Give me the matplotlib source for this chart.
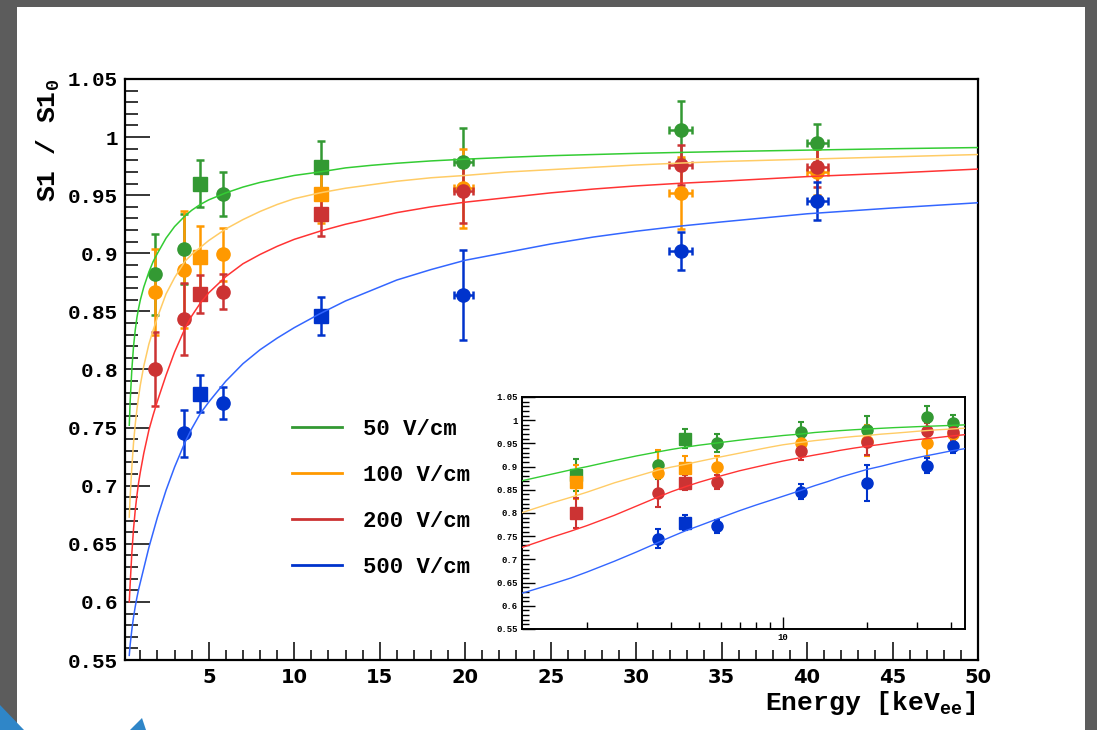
import numpy as np
import matplotlib.pyplot as plt
from matplotlib.lines import Line2D
from matplotlib.patches import Rectangle, Polygon
from matplotlib.ticker import MultipleLocator, FuncFormatter, FixedLocator, NullFormatter

plt.rcParams['mathtext.fontset'] = 'custom'
plt.rcParams['mathtext.rm'] = 'Liberation Mono:bold'
plt.rcParams['mathtext.bf'] = 'Liberation Mono:bold'

# 測定点 (keVee)
energy = [1.83, 3.58, 4.46, 5.83, 11.58, 19.9, 32.6, 40.6]
energy_err = [0, 0, 0, 0, 0, 0.58, 0.65, 0.63]
main_markers = ['o', 'o', 's', 'o', 's', 'o', 'o', 'o']
inset_markers = ['s', 'o', 's', 'o', 'o', 'o', 'o', 'o']

fields = ['50 V/cm', '100 V/cm', '200 V/cm', '500 V/cm']

s1_50 = [0.882, 0.904, 0.960, 0.951, 0.974, 0.979, 1.006, 0.995]
err_50 = [0.035, 0.030, 0.020, 0.019, 0.023, 0.029, 0.025, 0.016]
s1_100 = [0.867, 0.886, 0.8965, 0.899, 0.951, 0.956, 0.9515, 0.970]
err_100 = [0.037, 0.050, 0.027, 0.023, 0.025, 0.034, 0.031, 0.020]
s1_200 = [0.8006, 0.8436, 0.865, 0.867, 0.934, 0.954, 0.976, 0.974]
err_200 = [0.032, 0.031, 0.016, 0.015, 0.019, 0.028, 0.017, 0.017]
s1_500 = [np.nan, 0.745, 0.779, 0.771, 0.846, 0.864, 0.902, 0.945]
err_500 = [np.nan, 0.020, 0.016, 0.014, 0.016, 0.039, 0.016, 0.016]

# フィット曲線
fit_energy = [0.35, 0.4, 0.5, 0.6, 0.7, 0.8, 0.9, 1.0, 1.2, 1.5, 1.75, 2.0,
              2.5, 3.0, 3.6, 4.0, 4.5, 5.0, 6.0, 7.0, 8.0, 9.0, 10, 11.5, 13,
              14.5, 16, 18, 20, 22.5, 25, 27.5, 30, 32.5, 35, 40, 45, 50]
fit_50 = [0.752, 0.772, 0.800, 0.820, 0.834, 0.845, 0.853, 0.860, 0.871, 0.884,
          0.893, 0.900, 0.913, 0.923, 0.932, 0.937, 0.942, 0.946, 0.952, 0.957,
          0.961, 0.964, 0.967, 0.970, 0.9735, 0.9757, 0.9775, 0.9795, 0.981,
          0.9826, 0.984, 0.985, 0.986, 0.9868, 0.9875, 0.9888, 0.990, 0.991]
fit_100 = [0.673, 0.690, 0.716, 0.737, 0.753, 0.766, 0.777, 0.787, 0.803, 0.822,
           0.834, 0.845, 0.865, 0.879, 0.893, 0.899, 0.905, 0.911, 0.921, 0.929,
           0.936, 0.942, 0.947, 0.952, 0.956, 0.959, 0.962, 0.965, 0.967,
           0.970, 0.972, 0.974, 0.976, 0.9776, 0.979, 0.981, 0.983, 0.985]
fit_200 = [0.600, 0.615, 0.642, 0.663, 0.679, 0.692, 0.703, 0.712, 0.728, 0.748,
           0.761, 0.773, 0.795, 0.815, 0.835, 0.846, 0.857, 0.866, 0.880, 0.891,
           0.899, 0.906, 0.912, 0.919, 0.925, 0.930, 0.935, 0.940, 0.944,
           0.948, 0.952, 0.9553, 0.958, 0.9602, 0.962, 0.966, 0.969, 0.9725]
fit_500 = [0.554, 0.563, 0.576, 0.587, 0.596, 0.604, 0.611, 0.617, 0.629, 0.647,
           0.660, 0.673, 0.696, 0.716, 0.737, 0.749, 0.762, 0.772, 0.790, 0.805,
           0.817, 0.827, 0.836, 0.848, 0.859, 0.868, 0.877, 0.886, 0.894,
           0.901, 0.908, 0.914, 0.919, 0.9233, 0.927, 0.934, 0.939, 0.9435]

point_colors = ['#339933', '#ff9900', '#cc3333', '#0033cc']
fit_colors = ['#33cc33', '#ffcc66', '#ff3333', '#3366ff']

series = [(s1_50, err_50, fit_50), (s1_100, err_100, fit_100),
          (s1_200, err_200, fit_200), (s1_500, err_500, fit_500)]

MONO = 'Liberation Mono'


def fmt_g(v, pos):
    return '%g' % round(v, 3)


def draw_points(ax, markers, ms, capsize, elw):
    for (vals, errs, _), col in zip(series, point_colors):
        for e, ex, v, ev, m in zip(energy, energy_err, vals, errs, markers):
            if np.isnan(v):
                continue
            ax.errorbar(e, v, yerr=ev, xerr=ex if ex > 0 else None, fmt=m,
                        color=col, ms=ms, capsize=capsize, elinewidth=elw,
                        capthick=elw, zorder=3)


def draw_fits(ax, lw):
    for (_, _, fit), col in zip(series, fit_colors):
        ax.plot(fit_energy, fit, color=col, lw=lw, zorder=4)


fig = plt.figure(figsize=(10.97, 7.30), dpi=100)
fig.patch.set_facecolor('#5c5c5c')
fig.add_artist(Rectangle((17 / 1097, 0), 1068 / 1097, 1 - 7 / 730,
                         transform=fig.transFigure, facecolor='white',
                         edgecolor='none', zorder=0))
fig.add_artist(Polygon([(0, 0), (0, 25 / 730), (24 / 1097, 0)], closed=True,
                       transform=fig.transFigure, facecolor='#2f86c8',
                       edgecolor='none', zorder=1))
fig.add_artist(Polygon([(130 / 1097, 0), (142 / 1097, 12 / 730), (146 / 1097, 0)],
                       closed=True, transform=fig.transFigure,
                       facecolor='#2f86c8', edgecolor='none', zorder=1))

# メインのプロット
ax = fig.add_axes([125 / 1097, 1 - 660 / 730, 853 / 1097, 581 / 730])
draw_points(ax, main_markers, 9.5, 3, 1.8)
draw_fits(ax, 1.1)
ax.set_xlim(0.1, 50)
ax.set_ylim(0.55, 1.05)
ax.xaxis.set_major_locator(MultipleLocator(5))
ax.xaxis.set_minor_locator(MultipleLocator(1))
ax.yaxis.set_major_locator(MultipleLocator(0.05))
ax.yaxis.set_minor_locator(MultipleLocator(0.01))
ax.yaxis.set_major_formatter(FuncFormatter(fmt_g))
ax.xaxis.set_major_formatter(FuncFormatter(fmt_g))
ax.tick_params(axis='y', which='major', direction='in', length=18, width=1.1,
               pad=5, labelsize=15)
ax.tick_params(axis='y', which='minor', direction='in', length=9, width=1.1)
ax.tick_params(axis='x', which='major', direction='in', length=13, width=1.1,
               pad=6, labelsize=14)
ax.tick_params(axis='x', which='minor', direction='in', length=7, width=1.1)
for lab in ax.get_yticklabels():
    lab.set_fontfamily(MONO)
    lab.set_fontweight('bold')
for lab in ax.get_xticklabels():
    lab.set_fontfamily('DejaVu Sans')
    lab.set_fontweight('bold')
for sp in ax.spines.values():
    sp.set_linewidth(1.6)

ax.set_ylabel(r'S1 / S1$_\mathrm{0}$', fontfamily=MONO, fontweight='bold',
              fontsize=19, loc='top')
ax.yaxis.set_label_coords(-0.074, 1.0)
ax.set_xlabel(r'Energy [keV$_\mathrm{ee}$]', fontfamily=MONO,
              fontweight='bold', fontsize=19, loc='right')
ax.xaxis.set_label_coords(0.997, -0.05)

handles = [Line2D([], [], color=c, lw=2.0) for c in point_colors]
ax.legend(handles, fields, loc='upper left', bbox_to_anchor=(0.196, 0.415),
          frameon=False, handlelength=2.25, handletextpad=0.95,
          labelspacing=1.13, borderpad=0, borderaxespad=0,
          prop={'family': MONO, 'weight': 'bold', 'size': 16})

# 挿入図 (対数軸)
ins = fig.add_axes([522 / 1097, 1 - 629 / 730, 443 / 1097, 232 / 730])
ins.set_xscale('log')
draw_points(ins, inset_markers, 8, 2.5, 1.5)
draw_fits(ins, 1.0)
ins.set_xlim(1.17, 44.7)
ins.set_ylim(0.55, 1.05)
ins.xaxis.set_major_locator(FixedLocator([10]))
ins.xaxis.set_minor_locator(FixedLocator([2, 3, 4, 5, 6, 7, 8, 9, 20, 30, 40]))
ins.xaxis.set_major_formatter(FuncFormatter(fmt_g))
ins.xaxis.set_minor_formatter(NullFormatter())
ins.yaxis.set_major_locator(MultipleLocator(0.05))
ins.yaxis.set_minor_locator(MultipleLocator(0.01))
ins.yaxis.set_major_formatter(FuncFormatter(fmt_g))
ins.tick_params(axis='both', which='major', direction='in', length=9,
                width=1.0, labelsize=6.5, pad=3)
ins.tick_params(axis='both', which='minor', direction='in', length=5,
                width=1.0)
for lab in ins.get_xticklabels() + ins.get_yticklabels():
    lab.set_fontfamily(MONO)
    lab.set_fontweight('bold')
for sp in ins.spines.values():
    sp.set_linewidth(1.4)

fig.savefig('out.png', dpi=100, facecolor=fig.get_facecolor())
